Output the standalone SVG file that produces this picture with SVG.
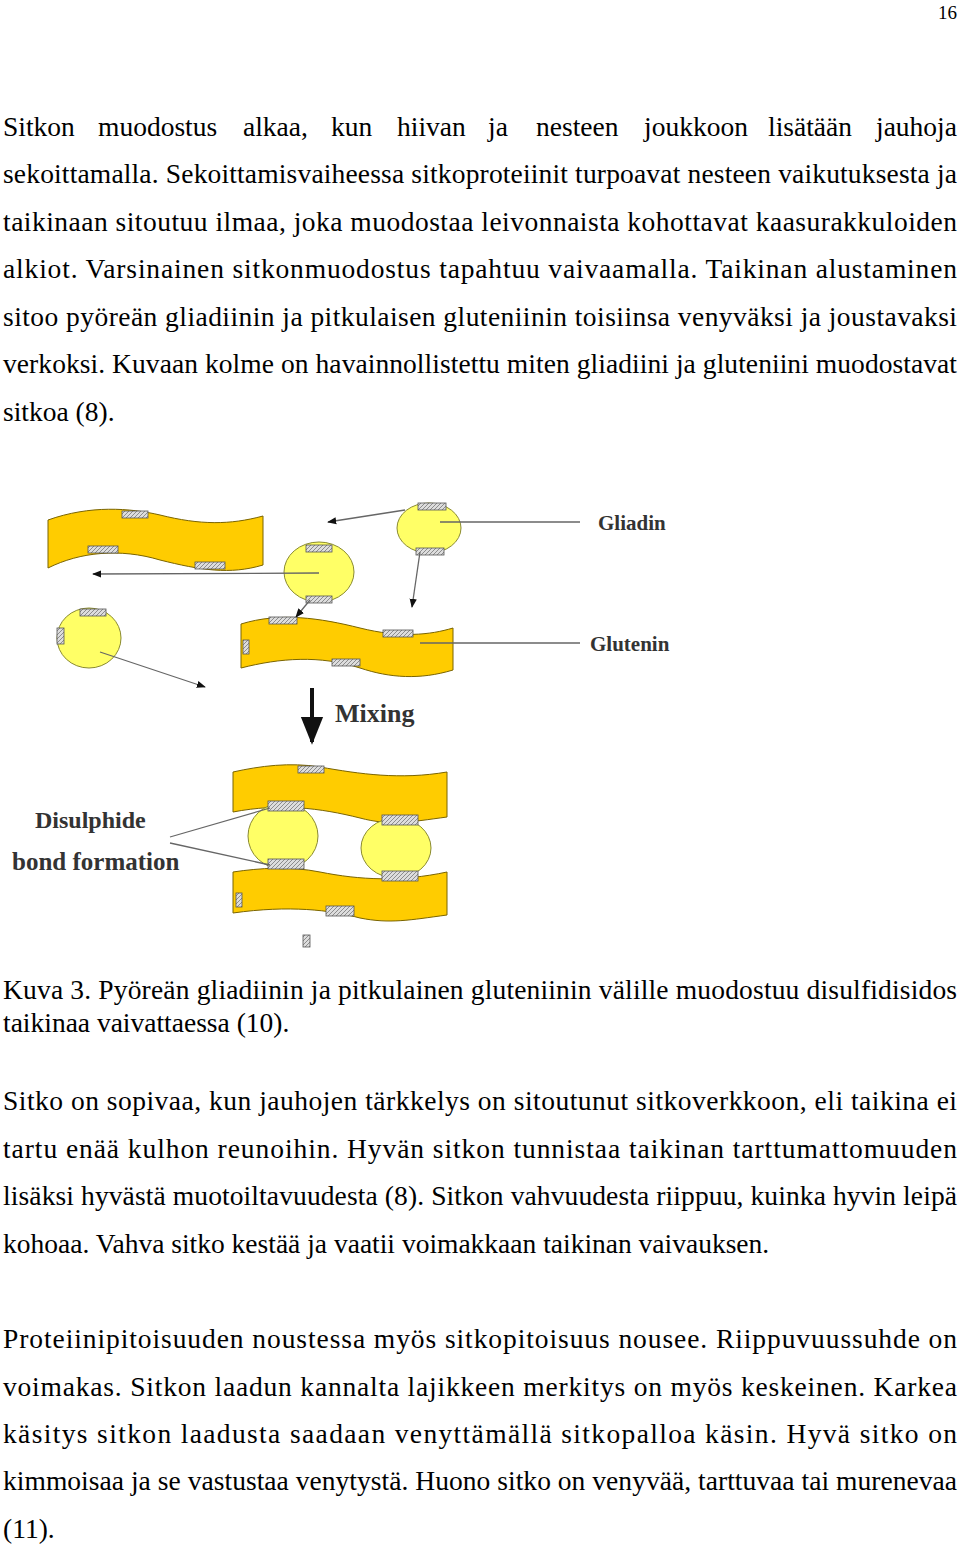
<svg xmlns="http://www.w3.org/2000/svg" width="960" height="1546" viewBox="0 0 960 1546">
<style>
.t{font-family:"Liberation Serif",serif;font-size:27.5px;fill:#000}
.lab{font-family:"Liberation Serif",serif;font-weight:bold;fill:#333}
.str{fill:#FFCC00;stroke:#7a6400;stroke-width:1}
.gl{fill:#FFFF66;stroke:#8a8a30;stroke-width:1}
.p{fill:url(#hatch);stroke:#555;stroke-width:0.8}
.ln{stroke:#666;stroke-width:1.3;fill:none}
</style>
<defs>
<pattern id="hatch" width="4" height="4" patternUnits="userSpaceOnUse">
<rect width="4" height="4" fill="#ddd"/><path d="M0,4 L4,0" stroke="#777" stroke-width="0.8"/>
</pattern>
<marker id="ah" viewBox="0 0 10 10" refX="9" refY="5" markerWidth="7" markerHeight="7" orient="auto"><path d="M0,1 L10,5 L0,9 Z" fill="#111"/></marker>
</defs>
<rect width="960" height="1546" fill="#fff"/>
<text class="t" x="957" y="19" text-anchor="end" style="font-size:19px">16</text>
<g id="para1">
<text class="t" y="136"><tspan x="3">Sitkon</tspan><tspan x="98">muodostus</tspan><tspan x="243">alkaa,</tspan><tspan x="331">kun</tspan><tspan x="397">hiivan</tspan><tspan x="488">ja</tspan><tspan x="536">nesteen</tspan><tspan x="644">joukkoon</tspan><tspan x="768">lisätään</tspan><tspan x="876">jauhoja</tspan></text>
<text class="t" x="3" y="183" textLength="954" lengthAdjust="spacing">sekoittamalla. Sekoittamisvaiheessa sitkoproteiinit turpoavat nesteen vaikutuksesta ja</text>
<text class="t" x="3" y="231" textLength="954" lengthAdjust="spacing">taikinaan sitoutuu ilmaa, joka muodostaa leivonnaista kohottavat kaasurakkuloiden</text>
<text class="t" x="3" y="278" textLength="954" lengthAdjust="spacing">alkiot. Varsinainen sitkonmuodostus tapahtuu vaivaamalla. Taikinan alustaminen</text>
<text class="t" x="3" y="326" textLength="954" lengthAdjust="spacing">sitoo pyöreän gliadiinin ja pitkulaisen gluteniinin toisiinsa venyväksi ja joustavaksi</text>
<text class="t" x="3" y="373" textLength="954" lengthAdjust="spacing">verkoksi. Kuvaan kolme on havainnollistettu miten gliadiini ja gluteniini muodostavat</text>
<text class="t" x="3" y="421">sitkoa (8).</text>
</g>
<g id="figure">
<g id="strand1"><path class="str" d="M48,520 C90,505 130,508 160,515 C200,525 230,525 263,516 L263,565 C230,575 200,570 160,560 C120,548 80,552 48,568 Z"/>
<rect class="p" x="122" y="511" width="26" height="7"/><rect class="p" x="88" y="546" width="30" height="7"/><rect class="p" x="195" y="562" width="30" height="7"/></g>
<g id="gliadinA"><ellipse class="gl" cx="429" cy="528" rx="32" ry="25"/><rect class="p" x="418" y="503" width="28" height="7"/><rect class="p" x="416" y="548" width="28" height="7"/></g>
<g id="gliadinB"><ellipse class="gl" cx="319" cy="572" rx="35" ry="30"/><rect class="p" x="306" y="545" width="26" height="7"/><rect class="p" x="306" y="596" width="26" height="7"/></g>
<g id="gliadinC"><ellipse class="gl" cx="89" cy="638" rx="32" ry="30"/><rect class="p" x="80" y="609" width="26" height="7"/><rect class="p" x="57" y="628" width="7" height="16"/></g>
<g id="strand2"><path class="str" d="M241,624 C280,612 320,618 360,628 C400,638 430,635 453,628 L453,670 C420,680 390,678 360,668 C320,655 280,658 241,668 Z"/>
<rect class="p" x="269" y="617" width="28" height="7"/><rect class="p" x="383" y="630" width="30" height="7"/><rect class="p" x="332" y="659" width="28" height="7"/><rect class="p" x="243" y="640" width="6" height="14"/></g>
<g id="strand3"><path class="str" d="M233,772 C260,766 290,762 320,767 C360,774 400,780 447,772 L447,817 C410,822 390,826 360,818 C320,808 280,803 233,812 Z"/></g>
<g id="strand4"><path class="str" d="M233,872 C260,868 290,866 320,872 C360,880 400,882 447,872 L447,915 C410,920 390,924 360,918 C330,910 290,905 233,913 Z"/></g>
<g id="gliadinD"><ellipse class="gl" cx="283" cy="836" rx="35" ry="33"/></g>
<g id="gliadinE"><ellipse class="gl" cx="396" cy="848" rx="35" ry="30"/></g>
<g id="patches"><rect class="p" x="298" y="766" width="26" height="7"/><rect class="p" x="268" y="801" width="36" height="10"/><rect class="p" x="268" y="859" width="36" height="10"/><rect class="p" x="382" y="815" width="36" height="10"/><rect class="p" x="382" y="871" width="36" height="10"/><rect class="p" x="326" y="906" width="28" height="10"/><rect class="p" x="236" y="893" width="6" height="14"/><rect class="p" x="303" y="935" width="7" height="12"/></g>
<g id="connectors">
<line class="ln" x1="440" y1="522" x2="580" y2="522"/>
<line class="ln" x1="420" y1="643" x2="580" y2="643"/>
<line class="ln" x1="405" y1="510" x2="328" y2="522" marker-end="url(#ah)"/>
<line class="ln" x1="420" y1="552" x2="412" y2="607" marker-end="url(#ah)"/>
<line class="ln" x1="319" y1="573" x2="93" y2="574" marker-end="url(#ah)"/>
<line class="ln" x1="310" y1="600" x2="296" y2="617" marker-end="url(#ah)"/>
<line class="ln" x1="100" y1="652" x2="205" y2="687" marker-end="url(#ah)"/>
<line x1="312" y1="688" x2="312" y2="742" stroke="#111" stroke-width="4" marker-end="url(#ah)"/>
<line class="ln" x1="170" y1="837" x2="270" y2="808"/>
<line class="ln" x1="170" y1="843" x2="270" y2="865"/>
</g>
<text class="lab" x="598" y="530" font-size="21">Gliadin</text>
<text class="lab" x="590" y="651" font-size="21">Glutenin</text>
<text class="lab" x="335" y="722" font-size="26">Mixing</text>
<text class="lab" x="35" y="828" font-size="24">Disulphide</text>
<text class="lab" x="12" y="870" font-size="25">bond formation</text>
</g>
<g id="caption">
<text class="t" x="3" y="999" textLength="954" lengthAdjust="spacing">Kuva 3. Pyöreän gliadiinin ja pitkulainen gluteniinin välille muodostuu disulfidisidos</text>
<text class="t" x="3" y="1032">taikinaa vaivattaessa (10).</text>
</g>
<g id="para2">
<text class="t" x="3" y="1110" textLength="954" lengthAdjust="spacing">Sitko on sopivaa, kun jauhojen tärkkelys on sitoutunut sitkoverkkoon, eli taikina ei</text>
<text class="t" x="3" y="1158" textLength="954" lengthAdjust="spacing">tartu enää kulhon reunoihin. Hyvän sitkon tunnistaa taikinan tarttumattomuuden</text>
<text class="t" x="3" y="1205" textLength="954" lengthAdjust="spacing">lisäksi hyvästä muotoiltavuudesta (8). Sitkon vahvuudesta riippuu, kuinka hyvin leipä</text>
<text class="t" x="3" y="1253">kohoaa. Vahva sitko kestää ja vaatii voimakkaan taikinan vaivauksen.</text>
</g>
<g id="para3">
<text class="t" x="3" y="1348" textLength="954" lengthAdjust="spacing">Proteiinipitoisuuden noustessa myös sitkopitoisuus nousee. Riippuvuussuhde on</text>
<text class="t" x="3" y="1396" textLength="954" lengthAdjust="spacing">voimakas. Sitkon laadun kannalta lajikkeen merkitys on myös keskeinen. Karkea</text>
<text class="t" x="3" y="1443" textLength="954" lengthAdjust="spacing">käsitys sitkon laadusta saadaan venyttämällä sitkopalloa käsin. Hyvä sitko on</text>
<text class="t" x="3" y="1490" textLength="954" lengthAdjust="spacing">kimmoisaa ja se vastustaa venytystä. Huono sitko on venyvää, tarttuvaa tai murenevaa</text>
<text class="t" x="3" y="1538">(11).</text>
</g>
</svg>
